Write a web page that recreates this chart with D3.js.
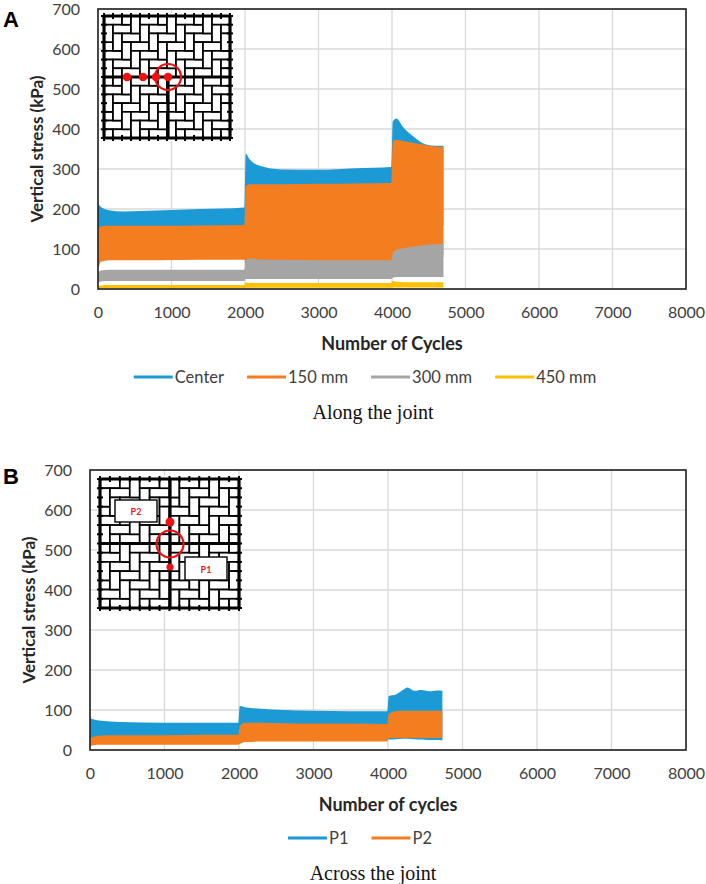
<!DOCTYPE html>
<html>
<head>
<meta charset="utf-8">
<script src="https://cdn.jsdelivr.net/npm/d3@7"></script>
<style>
  body { margin: 0; background: #fff; }
  svg { display: block; }
</style>
</head>
<body>
<div id="chart"></div>
<script>
// axis ticks shared by both panels
const cycleTicks = [0, 1000, 2000, 3000, 4000, 5000, 6000, 7000, 8000];
const stressTicks = [0, 100, 200, 300, 400, 500, 600, 700];

// Panel A - along the joint (envelope of the cyclic signal, kPa)
const cyclesA = [0, 40, 150, 350, 800, 1400, 1990, 2010, 2060, 2200, 2500, 3000, 3500, 3990, 4010, 4060, 4150, 4300, 4450, 4600, 4700];
const centerHi = [215, 205, 197, 194, 196, 200, 204, 338, 325, 308, 299, 298, 302, 305, 418, 426, 405, 380, 362, 358, 358];
const centerLo = [100, 100, 100, 100, 100, 100, 100, 130, 130, 130, 130, 130, 130, 130, 160, 160, 160, 160, 160, 160, 160];
const mm150Hi = [150, 157, 158, 158, 158, 159, 160, 258, 262, 262, 262, 263, 264, 265, 368, 373, 370, 365, 360, 356, 355];
const mm150Lo = [45, 68, 72, 72, 72, 73, 73, 60, 60, 60, 60, 60, 60, 60, 75, 80, 80, 80, 80, 80, 80];
const mm300Hi = [40, 46, 48, 48, 48, 48, 48, 70, 76, 74, 73, 72, 72, 72, 88, 98, 102, 106, 110, 112, 113];
const mm300Lo = [15, 19, 20, 20, 20, 20, 20, 25, 25, 25, 25, 25, 25, 25, 28, 30, 30, 30, 30, 30, 30];
const mm450Hi = [8, 9, 10, 10, 10, 10, 10, 16, 15, 15, 15, 15, 15, 15, 20, 18, 17, 17, 17, 17, 17];
const mm450Lo = [2, 2, 2, 2, 2, 2, 2, 3, 3, 3, 3, 3, 3, 3, 4, 4, 4, 4, 4, 4, 4];

// Panel B - across the joint
const cyclesB = [0, 40, 150, 400, 1000, 1500, 1990, 2010, 2080, 2300, 2600, 3000, 3500, 3990, 4010, 4100, 4200, 4260, 4350, 4450, 4550, 4650, 4730];
const p1Hi = [80, 77, 73, 70, 68, 68, 68, 110, 107, 103, 100, 98, 97, 97, 135, 138, 150, 156, 148, 150, 147, 149, 148];
const p1Lo = [20, 20, 20, 20, 20, 20, 20, 30, 30, 30, 30, 30, 30, 30, 26, 27, 28, 28, 27, 26, 25, 25, 24];
const p2Hi = [28, 33, 36, 37, 37, 38, 38, 60, 68, 68, 67, 66, 66, 65, 90, 97, 98, 98, 98, 98, 98, 98, 98];
const p2Lo = [8, 12, 13, 13, 13, 13, 13, 15, 20, 21, 21, 21, 21, 21, 30, 30, 30, 30, 30, 30, 30, 30, 30];

const W = 706, H = 884;
const tickFont = "Lato, 'Open Sans', sans-serif";
const textCol = "#404040";

const svg = d3.select("#chart").append("svg")
  .attr("width", W)
  .attr("height", H);

function drawPanel(cfg) {
  const x = d3.scaleLinear().domain([0, 8000]).range([cfg.left, cfg.right]);
  const y = d3.scaleLinear().domain([0, 700]).range([cfg.bottom, cfg.top]);
  const g = svg.append("g");

  // grid
  g.append("g").selectAll("line").data(cycleTicks).join("line")
    .attr("x1", d => x(d)).attr("x2", d => x(d))
    .attr("y1", cfg.top).attr("y2", cfg.bottom)
    .attr("stroke", "#d9d9d9").attr("stroke-width", 1.3);
  g.append("g").selectAll("line").data(stressTicks).join("line")
    .attr("x1", cfg.left).attr("x2", cfg.right)
    .attr("y1", d => y(d)).attr("y2", d => y(d))
    .attr("stroke", "#d9d9d9").attr("stroke-width", 1.3);

  // inset picture of the paver layout
  drawInset(g, cfg.inset);

  // data bands
  cfg.series.forEach(s => {
    const rows = d3.zip(cfg.cycles, s.lo, s.hi);
    const area = d3.area()
      .x(d => x(d[0]))
      .y0(d => y(d[1]))
      .y1(d => y(d[2]))
      .curve(d3.curveMonotoneX);
    g.append("path").datum(rows)
      .attr("d", area)
      .attr("fill", s.color);
  });

  // frame
  g.append("rect")
    .attr("x", cfg.left).attr("y", cfg.top)
    .attr("width", cfg.right - cfg.left).attr("height", cfg.bottom - cfg.top)
    .attr("fill", "none").attr("stroke", "#222").attr("stroke-width", 1.6);

  // axes (labels only, Excel style)
  const xAxis = g.append("g")
    .attr("transform", `translate(0,${cfg.bottom + 23})`)
    .call(d3.axisBottom(x).tickValues(cycleTicks).tickFormat(d3.format("d")).tickSize(0).tickPadding(0));
  xAxis.select(".domain").remove();
  xAxis.selectAll("text")
    .attr("dy", "0.35em")
    .attr("font-family", tickFont).attr("font-size", 16).attr("fill", textCol);

  const yAxis = g.append("g")
    .attr("transform", `translate(${cfg.left - 18},0)`)
    .call(d3.axisLeft(y).tickValues(stressTicks).tickFormat(d3.format("d")).tickSize(0).tickPadding(0));
  yAxis.select(".domain").remove();
  yAxis.selectAll("text")
    .attr("font-family", tickFont).attr("font-size", 16).attr("fill", textCol);

  // titles
  g.append("text")
    .attr("x", (cfg.left + cfg.right) / 2).attr("y", cfg.bottom + 55)
    .attr("dy", "0.35em").attr("text-anchor", "middle")
    .attr("font-family", tickFont).attr("font-size", 18).attr("font-weight", "bold")
    .attr("fill", "#262626").text(cfg.xTitle);
  g.append("text")
    .attr("transform", `translate(${cfg.yTitleX},${(cfg.top + cfg.bottom) / 2}) rotate(-90)`)
    .attr("dy", "0.35em").attr("text-anchor", "middle")
    .attr("font-family", tickFont).attr("font-size", 17).attr("font-weight", "bold")
    .attr("fill", "#262626").text("Vertical stress (kPa)");

  // panel letter
  g.append("text")
    .attr("x", 3).attr("y", cfg.top + cfg.letterDy)
    .attr("font-family", "'Liberation Sans', Arial, sans-serif")
    .attr("font-size", 22).attr("font-weight", "bold").attr("fill", "#000")
    .text(cfg.letter);

  // legend
  const leg = g.append("g");
  let cx = 0;
  cfg.series.forEach(s => {
    leg.append("line")
      .attr("x1", cx).attr("x2", cx + 39)
      .attr("y1", 0).attr("y2", 0)
      .attr("stroke", s.color).attr("stroke-width", 3);
    const t = leg.append("text")
      .attr("x", cx + 41).attr("y", 0).attr("dy", "0.35em")
      .attr("font-family", tickFont).attr("font-size", 16.5).attr("fill", textCol)
      .text(s.name);
    cx += 41 + t.node().getComputedTextLength() + 23;
  });
  cx -= 23;
  leg.attr("transform", `translate(${cfg.legendCx - cx / 2},${cfg.bottom + 88})`);

  // caption
  g.append("text")
    .attr("x", 373).attr("y", cfg.bottom + 123)
    .attr("dy", "0.35em").attr("text-anchor", "middle")
    .attr("font-family", "'Liberation Serif', 'Times New Roman', serif")
    .attr("font-size", 20).attr("fill", "#111")
    .text(cfg.caption);
}

function drawInset(g, o) {
  const n = 14;
  const cw = o.w / n, ch = o.h / n;
  const ig = g.append("g").attr("transform", `translate(${o.x},${o.y})`);
  const clipId = "clip" + o.id;
  ig.append("clipPath").attr("id", clipId)
    .append("rect").attr("width", o.w).attr("height", o.h);
  ig.append("rect").attr("x", -3).attr("y", -3)
    .attr("width", o.w + 6).attr("height", o.h + 6).attr("fill", "#fff");

  // herringbone bricks
  const bricks = [];
  for (let i = -2; i < n + 2; i++) {
    for (let j = -2; j < n + 2; j++) {
      const m = (((j - i) % 4) + 4) % 4;
      if (m === 0) bricks.push([i * cw, j * ch, 2 * cw, ch]);
      if (m === 1) bricks.push([i * cw, j * ch, cw, 2 * ch]);
    }
  }
  ig.append("g").attr("clip-path", `url(#${clipId})`)
    .selectAll("rect").data(bricks).join("rect")
    .attr("x", d => d[0]).attr("y", d => d[1])
    .attr("width", d => d[2]).attr("height", d => d[3])
    .attr("fill", "#fff").attr("stroke", "#000").attr("stroke-width", 1.7);

  // tick marks on the outer joints
  const ticks = [];
  for (let k = 0; k <= n; k++) {
    ticks.push([k * cw, -3, k * cw, 3]);
    ticks.push([k * cw, o.h - 3, k * cw, o.h + 3]);
    ticks.push([-3, k * ch, 3, k * ch]);
    ticks.push([o.w - 3, k * ch, o.w + 3, k * ch]);
  }
  ig.append("g").selectAll("line").data(ticks).join("line")
    .attr("x1", d => d[0]).attr("y1", d => d[1])
    .attr("x2", d => d[2]).attr("y2", d => d[3])
    .attr("stroke", "#000").attr("stroke-width", 2);

  // heavy joints
  const mid = o.h / 2, vx = o.vx;
  const heavy = [
    [0, 0, o.w, 0], [0, o.h, o.w, o.h], [0, 0, 0, o.h], [o.w, 0, o.w, o.h],
    [0, mid, o.w, mid], [vx, o.vTop, vx, o.h]
  ];
  ig.append("g").selectAll("line").data(heavy).join("line")
    .attr("x1", d => d[0]).attr("y1", d => d[1])
    .attr("x2", d => d[2]).attr("y2", d => d[3])
    .attr("stroke", "#000").attr("stroke-width", 3.2);

  // sensor markers
  ig.append("g").selectAll("circle").data(o.dots).join("circle")
    .attr("cx", d => d[0]).attr("cy", d => d[1]).attr("r", d => d[2])
    .attr("fill", "#f01010");
  ig.append("circle")
    .attr("cx", o.ring[0]).attr("cy", o.ring[1]).attr("r", o.ring[2])
    .attr("fill", "none").attr("stroke", "#f01010").attr("stroke-width", 2.2);

  // labelled boxes
  (o.boxes || []).forEach(b => {
    ig.append("rect")
      .attr("x", b[0]).attr("y", b[1]).attr("width", b[2]).attr("height", b[3])
      .attr("fill", "#fff").attr("stroke", "#000").attr("stroke-width", 1.4);
    ig.append("text")
      .attr("x", b[0] + b[2] / 2).attr("y", b[1] + b[3] / 2 + 1)
      .attr("dy", "0.35em").attr("text-anchor", "middle")
      .attr("font-family", tickFont).attr("font-size", 9).attr("font-weight", "bold")
      .attr("fill", "#e02020").text(b[4]);
  });
}

drawPanel({
  letter: "A", letterDy: 18,
  left: 98, right: 686, top: 9, bottom: 289,
  yTitleX: 37, legendCx: 365,
  xTitle: "Number of Cycles", caption: "Along the joint",
  cycles: cyclesA,
  series: [
    { name: "Center", color: "#1b9ad6", hi: centerHi, lo: centerLo },
    { name: "150 mm", color: "#f47d20", hi: mm150Hi, lo: mm150Lo },
    { name: "300 mm", color: "#a5a5a5", hi: mm300Hi, lo: mm300Lo },
    { name: "450 mm", color: "#ffc000", hi: mm450Hi, lo: mm450Lo }
  ],
  inset: {
    id: "A", x: 104, y: 16, w: 126, h: 122, vx: 64, vTop: 61,
    dots: [[23, 61, 4.3], [39, 61, 4.3], [52, 61, 4.3], [64, 61, 4.3]],
    ring: [64, 61, 13]
  }
});

drawPanel({
  letter: "B", letterDy: 14,
  left: 90, right: 686, top: 470, bottom: 750,
  yTitleX: 29, legendCx: 360,
  xTitle: "Number of cycles", caption: "Across the joint",
  cycles: cyclesB,
  series: [
    { name: "P1", color: "#1b9ad6", hi: p1Hi, lo: p1Lo },
    { name: "P2", color: "#f47d20", hi: p2Hi, lo: p2Lo }
  ],
  inset: {
    id: "B", x: 100, y: 479, w: 139, h: 129, vx: 70, vTop: 0,
    dots: [[70, 43, 4.5], [70, 88, 3.6]],
    ring: [70, 65, 13.5],
    boxes: [[15, 21, 42, 22, "P2"], [85, 78, 42, 23, "P1"]]
  }
});
</script>
</body>
</html>
